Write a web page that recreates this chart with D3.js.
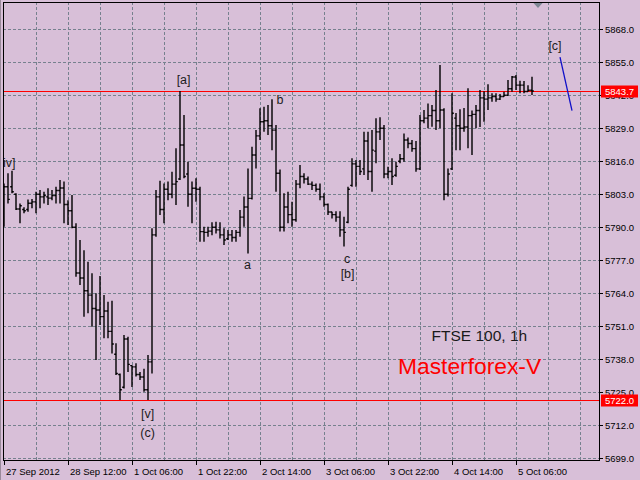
<!DOCTYPE html>
<html><head><meta charset="utf-8">
<script src="https://cdn.jsdelivr.net/npm/d3@7"></script>
<style>html,body{margin:0;padding:0;background:#D8BFD8;overflow:hidden}svg{display:block}</style>
</head><body>
<svg id="chart" width="640" height="480"></svg>
<script>
// ---- data (FTSE 100, 1h) ----
const opens = [5795,5806,5806,5803,5797.2,5797,5797,5799.5,5800,5803,
5802,5802,5801.5,5802.5,5804.5,5805.5,5799,5796.5,5790,5772,
5770,5765,5763.3,5758,5757.4,5754.8,5757,5749,5740,5732,
5727,5746,5735.5,5735,5732,5731,5726,5737,5787,5802,
5797,5805,5803,5807,5809,5822.4,5811,5803,5805.4,5805,
5788.3,5788,5788.5,5790,5789,5787,5785.5,5787,5786,5788,
5794,5798,5801.4,5818.5,5826,5831.6,5832,5830,5828.3,5811.3,
5790,5798,5795,5793,5807,5810,5809,5807,5806.5,5805,
5802,5799,5796,5795,5794,5789,5792,5806.5,5815,5814,
5813,5824,5812,5820,5827.6,5829,5811,5812,5810.5,5816,
5817,5824.4,5823,5821,5813,5832,5833,5834,5836,5832,
5836.2,5803,5813,5833,5830,5829,5829.5,5834,5834.5,5836,
5841,5840.5,5841,5841.5,5840.5,5841.5,5842,5844.6,5849.2,5846,
5846,5843.5,5844];
const highs = [5807.3,5811.3,5812.3,5803.4,5799.4,5797.9,5801.0,5801.1,5804.0,5804.7,
5804.0,5805.4,5804.7,5806.0,5808.6,5808.0,5800.7,5802.7,5791.6,5785.0,
5781.0,5776.4,5771.9,5764.0,5770.8,5763.3,5760.7,5761.1,5744.3,5732.4,
5747.6,5746.9,5735.7,5736.4,5733.0,5734.3,5739.7,5789.6,5804.7,5808.3,
5807.3,5808.0,5811.9,5821.1,5843.7,5834.2,5815.8,5808.0,5809.3,5806.0,
5790.2,5790.2,5792.0,5792.2,5792.0,5789.6,5788.9,5788.9,5788.9,5796.8,
5802.1,5813.2,5821.7,5828.3,5836.9,5837.5,5838.2,5840.4,5830.3,5812.8,
5803.4,5804.0,5800.1,5808.6,5814.5,5811.3,5810.0,5808.0,5807.3,5807.3,
5803.4,5799.4,5796.1,5796.3,5796.3,5794.2,5806.0,5817.2,5816.5,5816.5,
5827.6,5827.6,5828.3,5833.0,5833.4,5830.3,5813.9,5817.2,5815.8,5818.9,
5827.0,5825.4,5824.4,5824.0,5834.2,5836.2,5838.8,5838.2,5844.1,5853.9,
5836.9,5813.2,5842.8,5835.0,5836.5,5837.0,5844.8,5836.0,5838.2,5844.1,
5843.6,5846.4,5842.8,5842.8,5842.5,5843.4,5848.0,5849.6,5850.0,5847.7,
5847.6,5846.0,5849.3];
const lows = [5790.2,5799.4,5803.4,5796.8,5791.6,5795.5,5796.1,5797.5,5795.5,5797.5,
5799.4,5798.8,5800.7,5799.4,5799.4,5791.6,5790.9,5789.6,5770.5,5767.3,
5754.8,5756.1,5750.8,5737.7,5751.5,5746.3,5746.3,5740.3,5731.8,5722.0,
5726.5,5733.0,5727.1,5731.2,5729.8,5725.2,5722.0,5732.4,5786.3,5794.8,
5791.6,5800.7,5801.4,5798.8,5808.6,5809.3,5798.1,5791.6,5800.1,5784.3,
5784.3,5786.3,5786.9,5787.6,5785.6,5783.0,5785.0,5784.3,5784.3,5786.3,
5790.2,5779.7,5801.0,5813.2,5824.4,5827.6,5826.4,5820.4,5804.0,5788.3,
5788.3,5791.6,5790.2,5792.2,5805.4,5807.3,5806.7,5804.7,5804.0,5800.7,
5798.1,5794.8,5793.5,5792.2,5786.3,5782.4,5791.6,5806.0,5806.0,5810.6,
5810.6,5808.6,5804.0,5815.2,5824.4,5809.3,5809.3,5806.7,5809.9,5815.2,
5815.8,5821.1,5819.8,5811.9,5812.6,5831.0,5829.0,5829.6,5828.3,5829.0,
5800.7,5802.1,5812.6,5820.4,5820.4,5827.6,5821.1,5818.5,5829.0,5829.5,
5831.6,5836.2,5839.5,5839.5,5840.1,5841.4,5841.8,5843.4,5844.1,5842.8,
5842.8,5843.4,5842.1];
const closes = [5806,5801,5804,5797.2,5798.5,5796.5,5799.5,5800,5803,5802,
5802.5,5801.5,5802.5,5804.5,5805.5,5799,5796.5,5790,5772,5770,
5765,5763.3,5758,5757.4,5754.8,5757,5749,5744,5732.4,5726,
5746,5736,5735,5732,5731,5726,5737,5787,5802,5797,
5805,5803,5807,5808,5822.4,5810,5803,5805.4,5805,5788.3,
5788,5788.5,5790,5789,5787,5785,5787,5786,5788,5794,
5798,5801.4,5818.5,5826,5831.6,5832,5830,5828.3,5811.3,5790,
5798,5795,5793,5807,5810,5809,5807,5806.5,5805,5802,
5799,5796,5795,5794,5789,5788,5805,5815,5814,5812,
5824,5812,5820.4,5827.6,5829,5811,5812,5810,5814,5817,
5824.4,5823,5821,5813,5832,5833,5834,5836,5832,5836.2,
5803,5811,5834.9,5830,5829,5829.5,5834,5834.5,5836,5841,
5840.5,5841,5841.5,5840.5,5841.5,5842,5844.6,5849.2,5846,5846,
5843.5,5844,5843.7];

const xTickIndex = [0,16,32,48,64,80,96,112,128];
const xTickLabels = ["27 Sep 2012","28 Sep 12:00","1 Oct 06:00","1 Oct 22:00","2 Oct 14:00","3 Oct 06:00","3 Oct 22:00","4 Oct 14:00","5 Oct 06:00"];
const yTicks = [5699,5712,5725,5738,5751,5764,5777,5790,5803,5816,5829,5842,5855,5868];
const levels = [5843.7, 5722.0];
const waveText  = ["[iv]","[a]","a","b","c","[b]","[v]","(c)","[c]"];
const waveIndex = [0.9,44.9,60.9,69,85.75,85.9,35.9,35.9,137.75];
const wavePrice = [5813.7,5846.4,5773.4,5838.6,5776.0,5770.0,5714.8,5707.2,5859.8];
const projIndex = [139,142];
const projPrice = [5857,5836];
const titleText = "FTSE 100, 1h";
const brandText = "Masterforex-V";

// ---- layout ----
const L=3, R=599, T=2, B=460;
const svg = d3.select("#chart");
const x = d3.scaleLinear().domain([-0.25,148.75]).range([L,R]);
const y = d3.scaleLinear().domain([5699,5868]).range([458.3,29.3]);
const font = "'Liberation Sans', Arial, sans-serif";

svg.append("rect").attr("width",640).attr("height",480).attr("fill","#D8BFD8");
svg.append("defs").append("clipPath").attr("id","clip")
  .append("rect").attr("x",L).attr("y",T).attr("width",R-L).attr("height",B-T);

// grid
const grid = svg.append("g").attr("stroke","#76818e").attr("stroke-dasharray","3,2").attr("stroke-width",1);
yTicks.forEach(v=>{
  const yy=Math.round(y(v))+0.5;
  grid.append("line").attr("x1",L).attr("x2",R).attr("y1",yy).attr("y2",yy);
});
d3.range(8,149,8).forEach(i=>{
  const xx=Math.round(x(i))+0.5;
  grid.append("line").attr("x1",xx).attr("x2",xx).attr("y1",T).attr("y2",B);
});

const plot = svg.append("g").attr("clip-path","url(#clip)");

// level lines
levels.forEach(v=>{
  const yy=Math.round(y(v))+0.5;
  plot.append("line").attr("x1",L).attr("x2",R).attr("y1",yy).attr("y2",yy)
    .attr("stroke","#ff0000").attr("stroke-width",1);
});

// OHLC bars
const bars = plot.append("g").attr("stroke","#000").attr("stroke-width",1.4).attr("fill","none");
opens.forEach((o,i)=>{
  const xx=x(i);
  bars.append("path").attr("d",
    `M${xx},${y(highs[i])}V${y(lows[i])}M${xx-1.8},${y(o)}H${xx}M${xx},${y(closes[i])}H${xx+1.8}`);
});

// projection line
plot.append("line").attr("x1",x(projIndex[0])).attr("y1",y(projPrice[0]))
  .attr("x2",x(projIndex[1])).attr("y2",y(projPrice[1]))
  .attr("stroke","#1010c8").attr("stroke-width",1.3);

// wave labels
waveText.forEach((t,k)=>{
  plot.append("text").attr("x",x(waveIndex[k])).attr("y",y(wavePrice[k]))
    .attr("text-anchor","middle").attr("font-family",font).attr("font-size","12.5px")
    .attr("fill","#1c1c1c").text(t);
});

// title texts
svg.append("text").attr("x",431.5).attr("y",341).attr("font-family",font)
  .attr("font-size","15.5px").attr("fill","#1a1a1a").text(titleText);
svg.append("text").attr("x",398).attr("y",374).attr("font-family",font)
  .attr("font-size","22.8px").attr("fill","#ff0000").text(brandText);

// frame
svg.append("rect").attr("x",L+0.5).attr("y",T+0.5).attr("width",R-L).attr("height",B-T)
  .attr("fill","none").attr("stroke","#000").attr("stroke-width",1);
svg.append("line").attr("x1",0.5).attr("x2",0.5).attr("y1",0).attr("y2",480).attr("stroke","#9a8a9a");

// right axis
const ya = svg.append("g").attr("font-family",font).attr("font-size","9.5px");
yTicks.forEach(v=>{
  const yy=Math.round(y(v))+0.5;
  ya.append("line").attr("x1",R).attr("x2",R+4).attr("y1",yy).attr("y2",yy).attr("stroke","#000");
  ya.append("text").attr("x",605).attr("y",yy).attr("dy","0.35em").attr("fill","#000").text(v.toFixed(1));
});
levels.forEach(v=>{
  const yy=Math.round(y(v))+0.5;
  ya.append("rect").attr("x",601).attr("y",yy-6).attr("width",37).attr("height",12).attr("fill","#ff0000");
  ya.append("text").attr("x",605).attr("y",yy).attr("dy","0.35em").attr("fill","#fff").text(v.toFixed(1));
});

// bottom axis
const xa = svg.append("g").attr("font-family",font).attr("font-size","9.5px");
xTickIndex.forEach((i,k)=>{
  const xx=Math.round(x(i))+0.5;
  xa.append("line").attr("x1",xx).attr("x2",xx).attr("y1",B).attr("y2",B+5).attr("stroke","#000");
  xa.append("text").attr("x",xx+1.5).attr("y",475).attr("fill","#000").text(xTickLabels[k]);
});

// chart shift marker
svg.append("path").attr("d",`M${x(133.5)-4.5},${T+1}L${x(133.5)+4.5},${T+1}L${x(133.5)},${T+6}Z`)
  .attr("fill","#7d8794");
</script>
</body></html>
